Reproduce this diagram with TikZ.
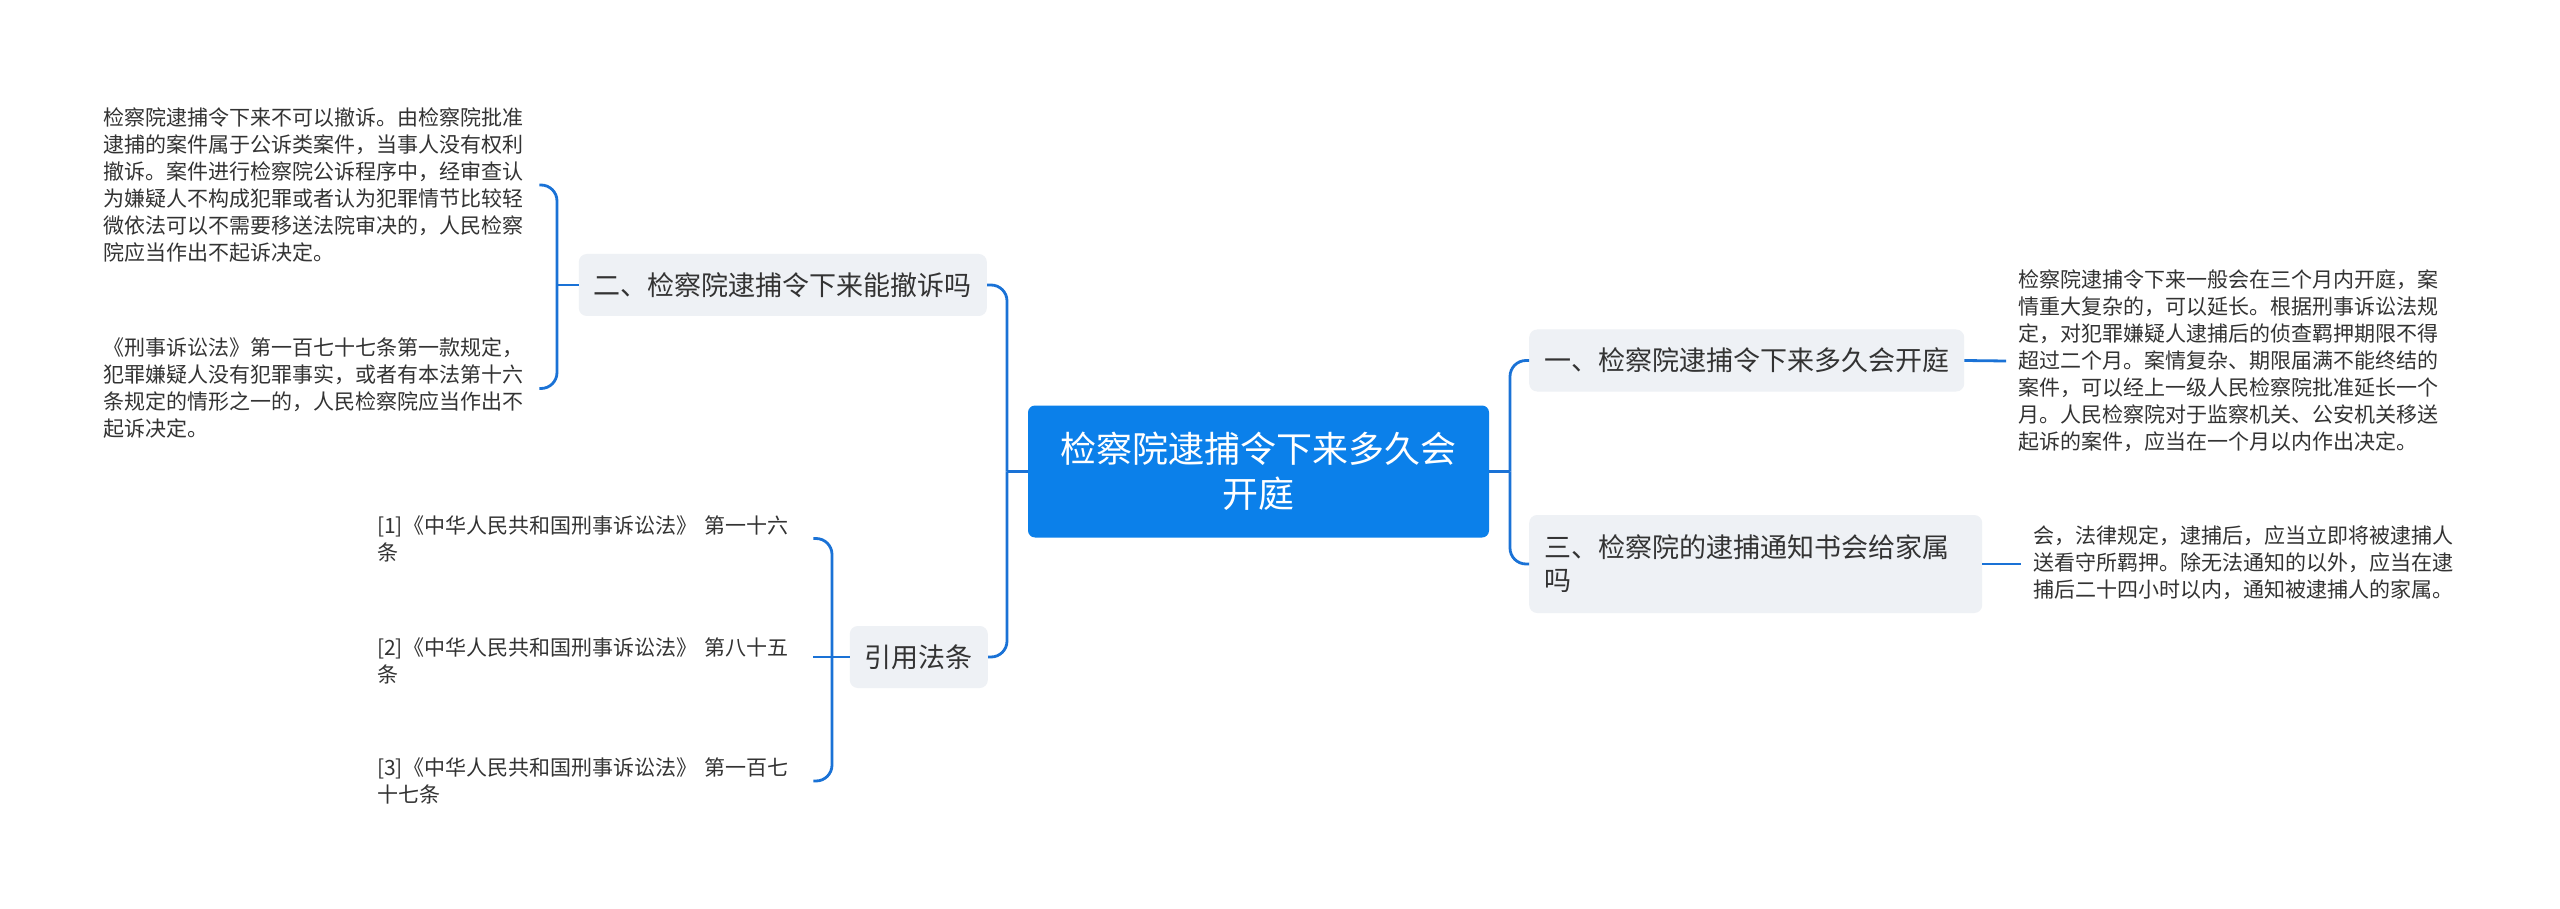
\documentclass[tikz,border=0pt]{standalone}
\usepackage{fontspec}
\setmainfont{Noto Sans CJK SC}
\usepackage{tikz}
\usetikzlibrary{positioning}
\usepackage{xcolor}
\definecolor{rootblue}{HTML}{0B80EA}
\definecolor{linkblue}{HTML}{1A72D6}
\definecolor{topicgray}{HTML}{EEF1F5}
\definecolor{inkgray}{HTML}{333333}

\begin{document}
\begin{tikzpicture}[
  x=1pt,y=-1pt,
  link/.style={draw=linkblue,line width=2.8pt,rounded corners=16pt},
  root/.style={fill=rootblue,text=white,rounded corners=7pt,align=center,
               minimum width=461pt,minimum height=132pt,
               font=\fontsize{36}{45}\selectfont},
  topic/.style={fill=topicgray,text=inkgray,rounded corners=8pt,align=left,
                inner xsep=15pt,minimum height=62pt,
                font=\fontsize{27}{33}\selectfont},
  leaf/.style={text=inkgray,align=left,text width=424pt,inner xsep=12pt,
               font=\fontsize{21}{27}\selectfont}
]
\fill[white] (0,0) rectangle (2560,909);

\node[root] (main) at (1258.5,471.5) {检察院逮捕令下来多久会\\开庭};
\node[topic,anchor=east] (q2) at (987,285) {二、检察院逮捕令下来能撤诉吗};
\node[topic,anchor=east] (cite) at (988,657) {引用法条};
\node[topic,anchor=west] (q1) at (1529,360.5) {一、检察院逮捕令下来多久会开庭};
\node[topic,anchor=west,text width=423pt,minimum height=98pt] (q3) at (1529,564)
  {三、检察院的逮捕通知书会给家属\\吗};

\node[leaf,anchor=west] (q2a) at (91,185) {检察院逮捕令下来不可以撤诉。由检察院批准\\
  逮捕的案件属于公诉类案件，当事人没有权利\\
  撤诉。案件进行检察院公诉程序中，经审查认\\
  为嫌疑人不构成犯罪或者认为犯罪情节比较轻\\
  微依法可以不需要移送法院审决的，人民检察\\
  院应当作出不起诉决定。};
\node[leaf,anchor=west] (q2b) at (91,388.5) {《刑事诉讼法》第一百七十七条第一款规定，\\
  犯罪嫌疑人没有犯罪事实，或者有本法第十六\\
  条规定的情形之一的，人民检察院应当作出不\\
  起诉决定。};
\node[leaf,anchor=west] (c1) at (365,538.5) {[1]《中华人民共和国刑事诉讼法》 第一十六\\条};
\node[leaf,anchor=west] (c2) at (365,660.5) {[2]《中华人民共和国刑事诉讼法》 第八十五\\条};
\node[leaf,anchor=west] (c3) at (365,781) {[3]《中华人民共和国刑事诉讼法》 第一百七\\十七条};
\node[leaf,anchor=west] (q1a) at (2006,361) {检察院逮捕令下来一般会在三个月内开庭，案\\
  情重大复杂的，可以延长。根据刑事诉讼法规\\
  定，对犯罪嫌疑人逮捕后的侦查羁押期限不得\\
  超过二个月。案情复杂、期限届满不能终结的\\
  案件，可以经上一级人民检察院批准延长一个\\
  月。人民检察院对于监察机关、公安机关移送\\
  起诉的案件，应当在一个月以内作出决定。};
\node[leaf,anchor=west] (q3a) at (2021,563) {会，法律规定，逮捕后，应当立即将被逮捕人\\
  送看守所羁押。除无法通知的以外，应当在逮\\
  捕后二十四小时以内，通知被逮捕人的家属。};

\coordinate (lt) at (1007,471.5);
\coordinate (rt) at (1510,471.5);
\coordinate (q2j) at (557,285);
\coordinate (citej) at (832,657);

% trunk
\draw[link] (main.west) -- (lt);
\draw[link] (lt) |- (q2.east);
\draw[link] (lt) |- (cite.east);
\draw[link] (main.east) -- (rt);
\draw[link] (rt) |- (q1.west);
\draw[link] (rt) |- (q3.west);
% leaves
\draw[link] (q1.east) -- (q1a.west);
\draw[link] (q3.east) -- (q3.east -| q3a.west);
\draw[link] (q2.west) -- (q2j);
\draw[link] (q2a.east) -| (q2j) |- (q2b.east);
\draw[link] (cite.west) -- (citej);
\draw[link] (c1.east) -| (citej) |- (c3.east);
\draw[link] (c2.east |- citej) -- (citej);
\end{tikzpicture}
\end{document}
